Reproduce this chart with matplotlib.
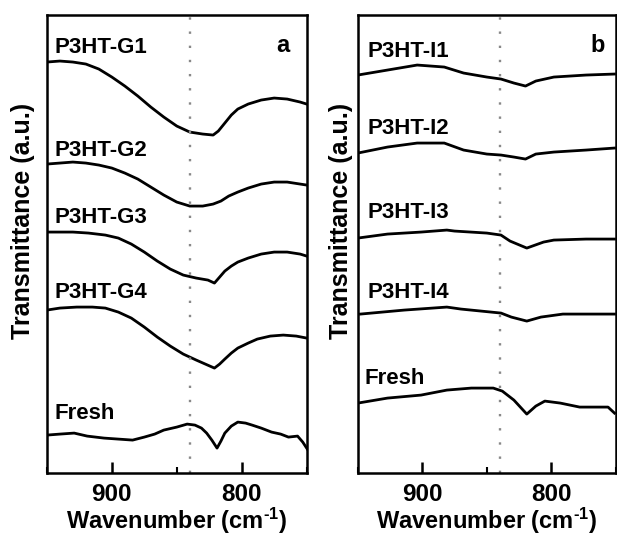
import matplotlib
matplotlib.use('Agg')
import matplotlib.pyplot as plt
from matplotlib.ticker import MultipleLocator

plt.rcParams['font.family'] = ['Liberation Sans', 'DejaVu Sans']
plt.rcParams['font.weight'] = 'bold'
plt.rcParams['mathtext.fontset'] = 'custom'
plt.rcParams['mathtext.rm'] = 'Liberation Sans:bold'
plt.rcParams['mathtext.bf'] = 'Liberation Sans:bold'
plt.rcParams['mathtext.default'] = 'bf'

# panel a: G series (wavenumber, transmittance a.u. with offsets)
g1_x = [950, 940, 930, 920, 910, 900, 890, 880, 870, 860, 850, 840, 830, 822, 818, 813, 808, 803, 795, 785, 775, 765, 755, 750]
g1_y = [411, 412, 411, 409, 404, 396, 387, 377, 366, 356, 347, 341, 339, 338, 342, 350, 358, 364, 369, 373, 375, 374, 371, 369]
g2_x = [950, 940, 930, 920, 910, 900, 890, 880, 870, 860, 850, 840, 830, 822, 816, 810, 803, 795, 785, 775, 765, 755, 750]
g2_y = [309, 310, 311, 310, 308, 305, 300, 294, 286, 278, 271, 267, 267, 269, 272, 277, 281, 285, 289, 291, 291, 289, 288]
g3_x = [950, 930, 918, 905, 895, 885, 875, 865, 855, 845, 835, 826, 821, 817, 813, 808, 803, 795, 785, 775, 765, 755, 750]
g3_y = [241, 241, 240, 238, 235, 229, 221, 212, 204, 198, 195, 193, 190, 196, 202, 207, 211, 215, 219, 221, 221, 219, 217]
g4_x = [950, 940, 927, 915, 905, 895, 885, 875, 865, 855, 845, 835, 828, 821, 817, 813, 808, 803, 795, 788, 778, 768, 758, 750]
g4_y = [163, 165, 166, 166, 165, 161, 155, 146, 136, 127, 119, 113, 109, 105, 109, 114, 120, 125, 130, 134, 137, 138, 137, 135]
fa_x = [950, 940, 929, 919, 906, 895, 884, 875, 867, 860, 850, 842, 836, 831, 827, 823, 819, 816, 813, 808, 803, 797, 792, 785, 777, 770, 764, 757, 753, 749]
fa_y = [38, 39, 40, 37, 35, 34, 33, 36, 39, 43, 46, 49, 48, 45, 40, 33, 25, 32, 40, 47, 51, 50, 48, 45, 41, 39, 36, 37, 31, 23]

# panel b: I series
i_x = [950, 927, 904, 883, 868, 850, 839, 829, 820, 812, 798, 773, 751]
i1_y = [398, 403, 408, 406, 400, 396, 394, 390, 387, 392, 396, 398, 399]
i2_y = [320, 326, 330, 330, 323, 319, 318, 316, 314, 319, 321, 323, 325]
i3_x = [950, 927, 901, 881, 875, 850, 839, 832, 819, 806, 798, 773, 751]
i3_y = [235, 239, 241, 243, 242, 240, 238, 232, 225, 231, 233, 234, 234]
i4_x = [948, 914, 881, 870, 839, 831, 819, 808, 791, 751]
i4_y = [159, 163, 166, 164, 160, 156, 152, 156, 159, 159]
fb_x = [950, 927, 901, 881, 862, 845, 838, 829, 819, 812, 805, 793, 778, 760, 756, 751]
fb_y = [70, 75, 78, 83, 85, 85, 82, 73, 59, 67, 72, 70, 66, 66, 66, 60]

labels_a = ['P3HT-G1', 'P3HT-G2', 'P3HT-G3', 'P3HT-G4', 'Fresh']
labels_b = ['P3HT-I1', 'P3HT-I2', 'P3HT-I3', 'P3HT-I4', 'Fresh']
ref_line = 840

fig = plt.figure(figsize=(6.17, 5.37), dpi=100)
ax1 = fig.add_axes([0.076, 0.119, 0.421, 0.853])
ax2 = fig.add_axes([0.580, 0.119, 0.418, 0.853])

def style(ax):
    ax.set_xlim(950, 750)
    ax.set_ylim(0, 458)
    ax.axvline(ref_line, color='#888888', lw=1.7, linestyle=(0, (1, 5)))
    ax.xaxis.set_major_locator(MultipleLocator(100))
    ax.xaxis.set_minor_locator(MultipleLocator(50))
    ax.tick_params(axis='x', which='major', direction='in', length=8, width=1.8,
                   labelsize=17.5, pad=7, top=False)
    ax.tick_params(axis='x', which='minor', direction='in', length=4, width=1.5, top=False)
    ax.set_yticks([])
    for s in ax.spines.values():
        s.set_linewidth(1.8)
    ax.set_xlabel('Wavenumber (cm$^{\\text{-1}}$)', fontsize=17, fontweight='bold', labelpad=0)
    ax.set_ylabel('Transmittance (a.u.)', fontsize=18, fontweight='bold')

for xs, ys in [(g1_x, g1_y), (g2_x, g2_y), (g3_x, g3_y), (g4_x, g4_y), (fa_x, fa_y)]:
    ax1.plot(xs, ys, color='black', lw=2, solid_joinstyle='round')
for xs, ys in [(i_x, i1_y), (i_x, i2_y), (i3_x, i3_y), (i4_x, i4_y), (fb_x, fb_y)]:
    ax2.plot(xs, ys, color='black', lw=2, solid_joinstyle='round')

style(ax1)
style(ax2)
ax1.yaxis.set_label_coords(-0.045, 0.55)
ax2.yaxis.set_label_coords(-0.02, 0.55)

ya = [0.930, 0.705, 0.557, 0.395, 0.131]
for lab, y in zip(labels_a, ya):
    ax1.text(0.03, y, lab, transform=ax1.transAxes, fontsize=16, fontweight='bold', va='center')
yb = [0.921, 0.753, 0.568, 0.395, 0.207]
xb = [0.039, 0.039, 0.039, 0.039, 0.027]
for lab, x, y in zip(labels_b, xb, yb):
    ax2.text(x, y, lab, transform=ax2.transAxes, fontsize=16, fontweight='bold', va='center')

ax1.text(0.908, 0.934, 'a', transform=ax1.transAxes, fontsize=17, fontweight='bold',
         ha='center', va='center')
ax2.text(0.93, 0.934, 'b', transform=ax2.transAxes, fontsize=17, fontweight='bold',
         ha='center', va='center')

fig.savefig('out.png', dpi=100)
